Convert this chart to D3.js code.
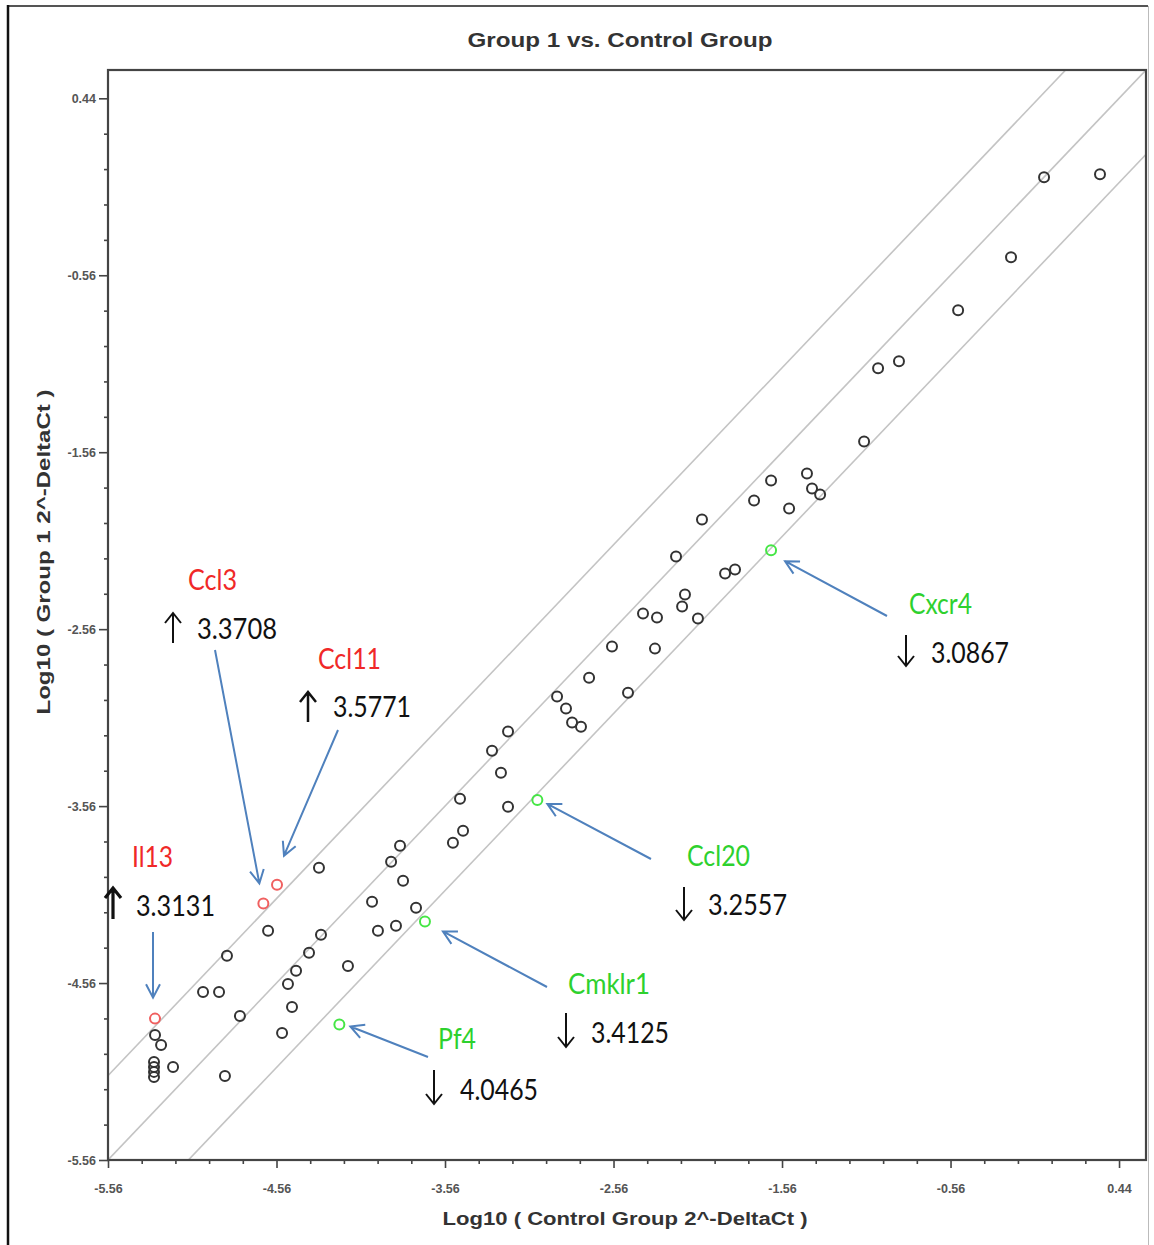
<!DOCTYPE html>
<html><head><meta charset="utf-8">
<script src="https://cdn.jsdelivr.net/npm/d3@7"></script>
<style>body{margin:0;background:#fff;} svg{display:block;}</style>
</head><body>
<svg id="chart" width="1154" height="1245"></svg>
<script>
// ---------------- DATA ----------------
const axisMajorTicks = [-5.56, -4.56, -3.56, -2.56, -1.56, -0.56, 0.44];
const axisTickLabels = ["-5.56", "-4.56", "-3.56", "-2.56", "-1.56", "-0.56", "0.44"];
const axisDomain = [-5.56, 0.6];
const foldBoundary = 3;

// Log10(Control Group 2^-DeltaCt) and Log10(Group 1 2^-DeltaCt), unchanged genes
const controlLog = [-4.308,-4.610,-4.854,-4.996,-4.901,-4.777,-5.281,-5.245,-5.287,-5.287,-5.287,-5.287,
  -5.174,-4.866,-4.527,-4.468,-4.492,-4.444,-4.367,-4.296,-4.136,-3.993,-3.958,-3.851,-3.732,-3.809,
  -3.880,-3.827,-3.513,-3.453,-3.471,-3.186,-3.228,-3.281,-3.186,-2.895,-2.842,-2.806,-2.753,-2.474,
  -2.705,-2.569,-2.314,-2.385,-2.302,-2.136,-2.153,-2.059,-1.898,-1.839,-2.189,-2.035,-1.726,-1.518,
  -1.625,-1.412,-1.382,-1.334,-1.073,-0.990,-0.866,-0.515,-0.201,-0.005,0.327];
const group1Log = [-3.908,-4.265,-4.406,-4.610,-4.610,-4.746,-4.853,-4.910,-5.006,-5.034,-5.062,-5.091,
  -5.034,-5.085,-4.842,-4.695,-4.565,-4.491,-4.389,-4.287,-4.463,-4.101,-4.265,-4.236,-4.135,-3.982,
  -3.874,-3.784,-3.767,-3.699,-3.518,-3.563,-3.371,-3.247,-3.139,-2.941,-3.009,-3.088,-3.111,-2.919,
  -2.834,-2.658,-2.670,-2.472,-2.494,-2.364,-2.432,-2.500,-2.246,-2.223,-2.149,-1.940,-1.833,-1.878,
  -1.720,-1.680,-1.765,-1.799,-1.499,-1.086,-1.046,-0.758,-0.458,-0.006,0.011];

// Highlighted genes
const geneNames = ["Ccl3", "Ccl11", "Il13", "Cxcr4", "Ccl20", "Cmklr1", "Pf4"];
const geneControl = [-4.638, -4.557, -5.281, -1.625, -3.012, -3.679, -4.187];
const geneGroup1 = [-4.110, -4.004, -4.761, -2.114, -3.525, -4.212, -4.794];
const geneFold = ["3.3708", "3.5771", "3.3131", "3.0867", "3.2557", "3.4125", "4.0465"];
const geneRegulation = ["up", "up", "up", "down", "down", "down", "down"];

// ---------------- LAYOUT ----------------
const W = 1154, H = 1245;
const plot = {left: 108, right: 1146, top: 70, bottom: 1160};
const annLayout = {
  Ccl3:   {nx:188, ny:590, nw:49, vx:197, vy:639, vw:80, ax:173, a0:613, a1:643, tx:215, ty:650, dx:-4,  dy:-20, aw:2},
  Ccl11:  {nx:318, ny:669, nw:63, vx:333, vy:717, vw:78, ax:308, a0:692, a1:722, tx:338, ty:730, dx:7,   dy:-29, aw:2.5},
  Il13:   {nx:132, ny:867, nw:41, vx:136, vy:916, vw:79, ax:113, a0:888, a1:919, tx:153, ty:932, dx:-2,  dy:-21, aw:3.2},
  Cxcr4:  {nx:909, ny:614, nw:63, vx:931, vy:663, vw:78, ax:906, a0:635, a1:666, tx:887, ty:616, dx:14,  dy:11,  aw:2},
  Ccl20:  {nx:687, ny:866, nw:63, vx:708, vy:915, vw:79, ax:684, a0:887, a1:920, tx:651, ty:859, dx:10,  dy:4,   aw:2},
  Cmklr1: {nx:568, ny:994, nw:82, vx:591, vy:1043, vw:78, ax:566, a0:1013, a1:1047, tx:547, ty:987, dx:18, dy:10, aw:2},
  Pf4:    {nx:438, ny:1049, nw:38, vx:460, vy:1100, vw:78, ax:434, a0:1070, a1:1104, tx:428, ty:1057, dx:11, dy:2, aw:2}
};

const svg = d3.select("#chart");
svg.append("rect").attr("width", W).attr("height", H).attr("fill", "#fff");

// outer frame
svg.append("line").attr("x1", 8).attr("y1", 6).attr("x2", 1148).attr("y2", 6).attr("stroke", "#555").attr("stroke-width", 2.2);
svg.append("line").attr("x1", 8).attr("y1", 5).attr("x2", 8).attr("y2", H).attr("stroke", "#111").attr("stroke-width", 2.5);
svg.append("line").attr("x1", 1148.5).attr("y1", 6).attr("x2", 1148.5).attr("y2", H).attr("stroke", "#bbb").attr("stroke-width", 1);

const x = d3.scaleLinear().domain(axisDomain).range([plot.left, plot.right]);
const y = d3.scaleLinear().domain(axisDomain).range([plot.bottom, plot.top]);

svg.append("clipPath").attr("id", "clip").append("rect")
  .attr("x", plot.left).attr("y", plot.top).attr("width", plot.right - plot.left).attr("height", plot.bottom - plot.top);

// fold-change boundary lines
const off = Math.log10(foldBoundary);
const lineG = svg.append("g").attr("clip-path", "url(#clip)");
[off, 0, -off].forEach(o => {
  lineG.append("line")
    .attr("x1", x(-7)).attr("y1", y(-7 + o))
    .attr("x2", x(2)).attr("y2", y(2 + o))
    .attr("stroke", "#c4c4c4").attr("stroke-width", 1.6);
});

const minorTicks = d3.range(0, 40).map(i => +(axisDomain[0] + i * 0.2).toFixed(2)).filter(v => v <= axisDomain[1] && !axisMajorTicks.includes(v));

function styleAxis(g) {
  g.select(".domain").remove();
  g.selectAll(".tick line").attr("stroke", "#444").attr("stroke-width", 1.6);
  g.selectAll(".tick text").attr("fill", "#555").attr("font-family", "Liberation Sans, Arial, sans-serif")
    .attr("font-weight", "bold").attr("font-size", 12.5);
}

const xMinor = svg.append("g").attr("transform", `translate(0,${plot.bottom})`)
  .call(d3.axisBottom(x).tickValues(minorTicks).tickSize(4).tickFormat(""));
styleAxis(xMinor);
const xMajor = svg.append("g").attr("transform", `translate(0,${plot.bottom})`)
  .call(d3.axisBottom(x).tickValues(axisMajorTicks).tickSize(8).tickPadding(16)
    .tickFormat((d, i) => axisTickLabels[i]));
styleAxis(xMajor);

const yMinor = svg.append("g").attr("transform", `translate(${plot.left},0)`)
  .call(d3.axisLeft(y).tickValues(minorTicks).tickSize(4).tickFormat(""));
styleAxis(yMinor);
const yMajor = svg.append("g").attr("transform", `translate(${plot.left},0)`)
  .call(d3.axisLeft(y).tickValues(axisMajorTicks).tickSize(9).tickPadding(3)
    .tickFormat((d, i) => axisTickLabels[i]));
styleAxis(yMajor);

svg.append("rect").attr("x", plot.left).attr("y", plot.top)
  .attr("width", plot.right - plot.left).attr("height", plot.bottom - plot.top)
  .attr("fill", "none").attr("stroke", "#444").attr("stroke-width", 2.2);

// titles
const titleFont = "Liberation Sans, Arial, sans-serif";
svg.append("text").attr("x", 620).attr("y", 47).attr("text-anchor", "middle")
  .attr("font-family", titleFont).attr("font-weight", "bold").attr("font-size", 20).attr("fill", "#333")
  .attr("textLength", 305).attr("lengthAdjust", "spacingAndGlyphs")
  .text("Group 1 vs. Control Group");
svg.append("text").attr("x", 625).attr("y", 1225).attr("text-anchor", "middle")
  .attr("font-family", titleFont).attr("font-weight", "bold").attr("font-size", 18).attr("fill", "#333")
  .attr("textLength", 365).attr("lengthAdjust", "spacingAndGlyphs")
  .text("Log10 ( Control Group 2^-DeltaCt )");
svg.append("text").attr("transform", "translate(50,552) rotate(-90)").attr("text-anchor", "middle")
  .attr("font-family", titleFont).attr("font-weight", "bold").attr("font-size", 18).attr("fill", "#333")
  .attr("textLength", 325).attr("lengthAdjust", "spacingAndGlyphs")
  .text("Log10 ( Group 1 2^-DeltaCt )");

// points
const pts = controlLog.map((c, i) => ({c, g: group1Log[i]}));
svg.append("g").selectAll("circle").data(pts).join("circle")
  .attr("cx", d => x(d.c)).attr("cy", d => y(d.g)).attr("r", 5)
  .attr("fill", "none").attr("stroke", "#333").attr("stroke-width", 2);

const genes = geneNames.map((n, i) => ({name: n, c: geneControl[i], g: geneGroup1[i], fold: geneFold[i], reg: geneRegulation[i]}));
const upColor = "#f02828", downColor = "#2ed12e";
svg.append("g").selectAll("circle").data(genes).join("circle")
  .attr("cx", d => x(d.c)).attr("cy", d => y(d.g)).attr("r", 5)
  .attr("fill", "none").attr("stroke", d => d.reg === "up" ? "#f06060" : "#45e645").attr("stroke-width", 2);

// annotations
const annFont = "Lato, Open Sans, sans-serif";
const annG = svg.append("g");
genes.forEach(d => {
  const L = annLayout[d.name];
  annG.append("text").attr("x", L.nx).attr("y", L.ny).attr("font-family", annFont).attr("font-size", 29)
    .attr("fill", d.reg === "up" ? upColor : downColor)
    .attr("textLength", L.nw).attr("lengthAdjust", "spacingAndGlyphs").text(d.name);
  annG.append("text").attr("x", L.vx).attr("y", L.vy).attr("font-family", annFont).attr("font-size", 29)
    .attr("fill", "#111")
    .attr("textLength", L.vw).attr("lengthAdjust", "spacingAndGlyphs").text(d.fold);
  let p;
  if (d.reg === "up") {
    p = `M${L.ax},${L.a1}L${L.ax},${L.a0}M${L.ax - 8},${L.a0 + 10}L${L.ax},${L.a0}L${L.ax + 8},${L.a0 + 10}`;
  } else {
    p = `M${L.ax},${L.a0}L${L.ax},${L.a1}M${L.ax - 8},${L.a1 - 10}L${L.ax},${L.a1}L${L.ax + 8},${L.a1 - 10}`;
  }
  annG.append("path").attr("d", p).attr("fill", "none").attr("stroke", "#111")
    .attr("stroke-width", L.aw).attr("stroke-linejoin", "miter");
  const tipX = x(d.c) + L.dx, tipY = y(d.g) + L.dy;
  const ang = Math.atan2(tipY - L.ty, tipX - L.tx);
  const hl = 15, ha = Math.PI / 6.5;
  const h1 = [tipX - hl * Math.cos(ang - ha), tipY - hl * Math.sin(ang - ha)];
  const h2 = [tipX - hl * Math.cos(ang + ha), tipY - hl * Math.sin(ang + ha)];
  annG.append("path")
    .attr("d", `M${L.tx},${L.ty}L${tipX},${tipY}M${h1[0]},${h1[1]}L${tipX},${tipY}L${h2[0]},${h2[1]}`)
    .attr("fill", "none").attr("stroke", "#4f81bd").attr("stroke-width", 2).attr("stroke-linejoin", "miter");
});
</script>
</body></html>
